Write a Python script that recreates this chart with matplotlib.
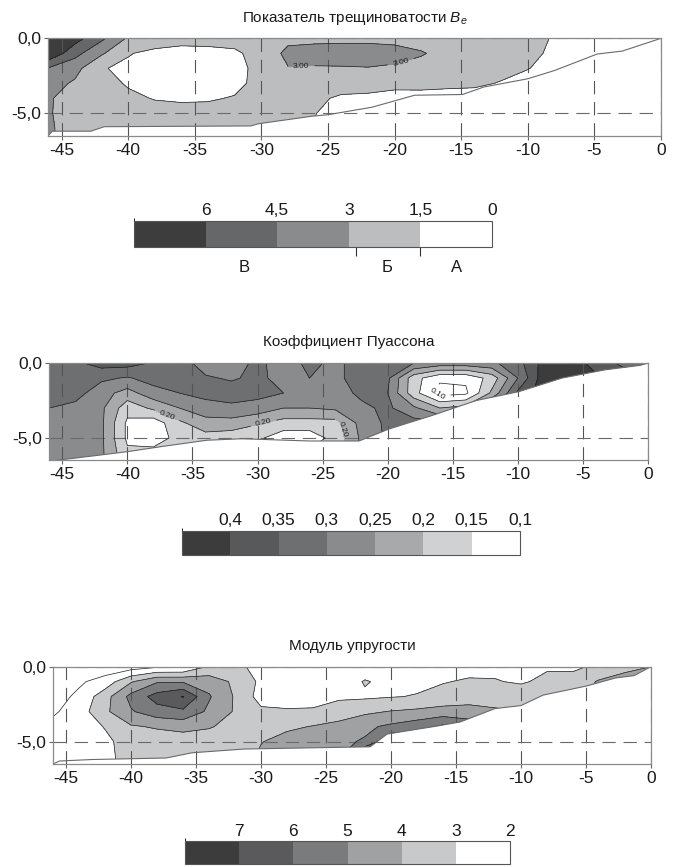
import numpy as np
import matplotlib
matplotlib.use('Agg')
import matplotlib.pyplot as plt
from matplotlib.colors import ListedColormap, BoundaryNorm
from matplotlib.cm import ScalarMappable
from matplotlib.patches import Polygon
from matplotlib.ticker import FuncFormatter

plt.rcParams['font.family'] = ['Liberation Sans', 'DejaVu Sans']
plt.rcParams['mathtext.fontset'] = 'custom'
plt.rcParams['mathtext.it'] = 'Liberation Sans:italic'
plt.rcParams['mathtext.rm'] = 'Liberation Sans'

# grid nodes: distance along profile (m) and depth (m)
x_nodes = [-46, -44, -42, -40, -38, -36, -34, -32, -30, -28, -26, -24,
           -22, -20, -18, -16, -14, -12, -10, -8, -6, -4, -2, 0]
depth_nodes = [0, -1, -2, -3, -4, -5, -6, -7]
x_ticks = [-45, -40, -35, -30, -25, -20, -15, -10, -5, 0]
y_ticks = [-5, 0]

# --- fracturing index Be ---
be_values = [
    [8.0, 6.6, 4.8, 2.8, 2.4, 2.0, 2.1, 2.2, 2.4, 2.7, 2.7, 2.7, 2.7, 2.6, 2.5, 2.4, 2.3, 2.1, 1.9, 1.4, 1.0, 0.8, 0.6, 0.5],
    [7.3, 5.0, 3.2, 1.6, 1.1, 1.0, 1.0, 1.2, 2.2, 3.3, 3.5, 3.6, 3.6, 3.5, 3.1, 2.6, 2.4, 2.2, 1.9, 1.2, 0.9, 0.7, 0.5, 0.4],
    [4.4, 3.5, 1.6, 1.2, 0.9, 0.8, 0.8, 1.0, 2.0, 2.95, 2.9, 2.9, 2.95, 2.8, 2.6, 2.4, 2.2, 2.0, 1.55, 1.0, 0.8, 0.6, 0.5, 0.4],
    [3.6, 2.8, 2.2, 1.3, 0.9, 0.8, 0.8, 1.1, 2.0, 2.5, 2.5, 2.4, 2.3, 1.9, 2.0, 1.9, 1.8, 1.4, 1.0, 0.8, 0.6, 0.5, 0.4, 0.3],
    [3.1, 2.6, 2.4, 1.9, 1.4, 1.3, 1.35, 1.6, 2.1, 2.3, 1.9, 1.2, 1.1, 1.0, 0.9, 0.8, 0.8, 0.7, 0.6, 0.5, 0.4, 0.3, 0.3, 0.2],
    [3.1, 2.5, 2.4, 2.3, 2.2, 2.0, 2.0, 2.1, 2.1, 2.0, 1.55, 0.9, 0.8, 0.7, 0.6, 0.5, 0.5, 0.4, 0.4, 0.3, 0.3, 0.2, 0.2, 0.2],
    [3.2, 2.4, 2.3, 2.2, 2.1, 2.0, 2.0, 2.0, 1.9, 1.8, 1.4, 0.8, 0.7, 0.6, 0.5, 0.5, 0.4, 0.4, 0.3, 0.3, 0.2, 0.2, 0.2, 0.2],
    [3.2, 2.4, 2.3, 2.2, 2.1, 2.0, 2.0, 2.0, 1.9, 1.8, 1.3, 0.8, 0.7, 0.6, 0.5, 0.5, 0.4, 0.4, 0.3, 0.3, 0.2, 0.2, 0.2, 0.2],
]
be_bottom_x = [0, -2.9, -4.8, -6.1, -8.0, -10.0, -10.6, -13.3, -14.9, -18.5, -19.7, -21.7,
               -25.0, -26.2, -28.2, -30.2, -30.8, -41.8, -42.8, -45.7, -46.0]
be_bottom_y = [0, -0.85, -1.05, -1.5, -2.15, -2.7, -2.8, -3.25, -3.75, -3.8, -4.1, -4.6,
               -5.1, -5.2, -5.45, -5.7, -5.85, -5.9, -6.2, -6.2, -6.5]
be_levels = [0, 1.5, 3, 4.5, 6, 8.5]
be_lines = [1.5, 4.5, 6]
be_colors = ['#ffffff', '#bcbdbf', '#8a8b8d', '#666769', '#3d3d3d']
be_scale = [0, 1.5, 3, 4.5, 6, 7.5]
be_scale_labels = ['0', '1,5', '3', '4,5', '6']
be_labelled = [(3.0, [(-27.0, -1.8), (-19.5, -1.7)])]
zone_names = ['В', 'Б', 'А']
zone_centers = [5.2, 2.2, 0.75]
zone_marks = [2.85, 1.5]

# --- Poisson ratio ---
nu_values = [
    [0.34, 0.34, 0.37, 0.37, 0.345, 0.32, 0.28, 0.28, 0.31, 0.28, 0.31, 0.29, 0.32, 0.32, 0.30, 0.28, 0.28, 0.29, 0.33, 0.42, 0.43, 0.38, 0.34, 0.33],
    [0.33, 0.33, 0.31, 0.295, 0.32, 0.32, 0.305, 0.295, 0.31, 0.285, 0.30, 0.29, 0.32, 0.31, 0.17, 0.11, 0.11, 0.17, 0.30, 0.43, 0.43, 0.41, 0.38, 0.36],
    [0.32, 0.32, 0.27, 0.23, 0.28, 0.30, 0.315, 0.32, 0.315, 0.30, 0.29, 0.28, 0.31, 0.30, 0.17, 0.08, 0.09, 0.21, 0.36, 0.43, 0.43, 0.42, 0.40, 0.38],
    [0.30, 0.285, 0.26, 0.17, 0.21, 0.25, 0.28, 0.29, 0.28, 0.25, 0.25, 0.26, 0.29, 0.31, 0.26, 0.20, 0.22, 0.33, 0.38, 0.42, 0.42, 0.42, 0.40, 0.38],
    [0.28, 0.28, 0.26, 0.14, 0.12, 0.19, 0.23, 0.23, 0.205, 0.18, 0.18, 0.18, 0.27, 0.31, 0.32, 0.31, 0.33, 0.38, 0.40, 0.42, 0.42, 0.42, 0.40, 0.38],
    [0.28, 0.28, 0.26, 0.14, 0.12, 0.17, 0.18, 0.17, 0.16, 0.12, 0.12, 0.17, 0.26, 0.31, 0.32, 0.32, 0.33, 0.38, 0.40, 0.42, 0.42, 0.42, 0.40, 0.38],
    [0.28, 0.28, 0.26, 0.16, 0.17, 0.17, 0.18, 0.18, 0.17, 0.16, 0.16, 0.17, 0.26, 0.31, 0.32, 0.32, 0.33, 0.38, 0.40, 0.42, 0.42, 0.42, 0.40, 0.38],
    [0.28, 0.28, 0.26, 0.16, 0.17, 0.17, 0.18, 0.18, 0.17, 0.16, 0.16, 0.17, 0.26, 0.31, 0.32, 0.32, 0.33, 0.38, 0.40, 0.42, 0.42, 0.42, 0.40, 0.38],
]
nu_bottom_x = [0, -0.6, -3.3, -6.6, -9.9, -13.2, -16.6, -19.9, -22.2, -26.0, -31.2, -33.9, -37.2, -39.9, -42.2, -46.0]
nu_bottom_y = [0, -0.15, -0.45, -1.0, -1.9, -2.5, -3.5, -4.4, -5.2, -5.2, -5.05, -5.15, -5.55, -5.9, -6.15, -6.55]
nu_levels = [0, 0.15, 0.2, 0.25, 0.3, 0.35, 0.4, 0.5]
nu_lines = [0.15, 0.25, 0.3, 0.35, 0.4]
nu_colors = ['#ffffff', '#d0d1d3', '#a8a9ab', '#8a8b8d', '#6e6f71', '#58595b', '#3c3c3c']
nu_scale = [0.1, 0.15, 0.2, 0.25, 0.3, 0.35, 0.4, 0.45]
nu_scale_labels = ['0,1', '0,15', '0,2', '0,25', '0,3', '0,35', '0,4']
nu_labelled = [(0.2, [(-37.0, -3.6), (-29.6, -3.7), (-23.4, -4.4)]),
               (0.1, [(-16.3, -2.4)])]

# --- elastic modulus ---
e_values = [
    [1.0, 1.2, 1.4, 1.5, 1.85, 1.9, 3.1, 3.3, 2.6, 2.4, 2.3, 2.3, 2.4, 2.5, 2.6, 2.7, 2.7, 2.8, 2.85, 2.9, 2.8, 3.2, 3.6, 4.0],
    [1.3, 1.85, 2.4, 3.9, 4.9, 4.9, 4.6, 3.8, 2.8, 2.5, 2.4, 2.4, 3.08, 2.7, 2.8, 2.95, 3.1, 3.05, 2.9, 3.2, 3.4, 4.1, 4.6, 4.6],
    [1.6, 2.2, 3.6, 5.3, 6.4, 7.05, 5.1, 3.9, 2.6, 2.6, 2.7, 2.9, 2.85, 2.95, 3.05, 3.3, 3.4, 3.4, 3.5, 3.6, 3.7, 4.2, 4.4, 4.5],
    [1.85, 2.5, 3.8, 4.9, 5.6, 5.8, 4.8, 3.9, 3.2, 3.1, 3.1, 3.3, 3.8, 4.05, 4.2, 4.4, 4.5, 4.2, 4.0, 3.9, 3.9, 4.2, 4.4, 4.5],
    [2.3, 2.5, 3.05, 3.9, 4.1, 4.3, 4.1, 3.6, 3.4, 3.8, 4.05, 4.4, 4.8, 5.2, 5.6, 6.2, 5.5, 4.5, 4.2, 4.0, 3.9, 4.2, 4.4, 4.5],
    [2.3, 2.5, 2.8, 3.4, 3.5, 3.5, 3.4, 3.3, 3.95, 4.4, 4.6, 4.8, 5.1, 7.0, 7.0, 6.5, 5.5, 4.5, 4.2, 4.0, 3.9, 4.2, 4.4, 4.5],
    [2.3, 2.5, 2.8, 3.3, 3.3, 3.3, 3.2, 3.2, 4.2, 4.5, 4.7, 4.8, 7.7, 7.5, 7.0, 6.5, 5.5, 4.5, 4.2, 4.0, 3.9, 4.2, 4.4, 4.5],
    [2.3, 2.5, 2.8, 3.3, 3.3, 3.3, 3.2, 3.2, 4.2, 4.5, 4.7, 4.8, 7.7, 7.5, 7.0, 6.5, 5.5, 4.5, 4.2, 4.0, 3.9, 4.2, 4.4, 4.5],
]
e_bottom_x = [0, -1.3, -2.7, -5.0, -8.3, -10.0, -12.0, -14.7, -16.7, -20.3, -21.6, -31.3, -35.3, -37.3, -43.0, -45.5, -46.0]
e_bottom_y = [0, -0.6, -0.75, -1.3, -1.9, -2.6, -2.8, -3.7, -4.0, -4.5, -5.35, -5.5, -5.75, -6.1, -6.2, -6.3, -6.5]
e_levels = [0, 3, 4, 5, 6, 7, 9]
e_lines = [2, 3, 4, 5, 6, 7]
e_colors = ['#ffffff', '#c8c9cb', '#a0a1a3', '#7a7b7d', '#5a5a5c', '#3c3c3c']
e_scale = [2, 3, 4, 5, 6, 7, 8]
e_scale_labels = ['2', '3', '4', '5', '6', '7']

DASH = (0, (12, 7))
LABEL_SIZE = 12.5


def comma(v, pos=None):
    return f'{v:.1f}'.replace('.', ',')


def draw_section(fig, rect, values, bx, by, levels, colors, lines, title, labelled=()):
    ax = fig.add_axes(rect)
    X, Y = np.meshgrid(x_nodes, depth_nodes)
    Z = np.array(values)

    domain = Polygon([(-46, 0), (0, 0)] + list(zip(bx, by)), closed=True,
                     transform=ax.transData, facecolor='none', edgecolor='none')
    ax.add_patch(domain)

    cf = ax.contourf(X, Y, Z, levels=levels, colors=colors)
    cf.set_clip_path(domain)
    cl = ax.contour(X, Y, Z, levels=lines, colors='#1e1e1e', linewidths=0.5)
    cl.set_clip_path(domain)
    for lev, spots in labelled:
        cs = ax.contour(X, Y, Z, levels=[lev], colors='#1e1e1e', linewidths=0.5)
        ax.clabel(cs, manual=spots, fmt='%.2f', fontsize=6, inline=True)
        cs.set_clip_path(domain)
    ax.plot(bx, by, color='#6a6a6a', lw=0.8)

    ax.set_xlim(-46, 0)
    ax.set_ylim(-6.5, 0)
    ax.set_xticks(x_ticks)
    ax.set_yticks(y_ticks)
    ax.xaxis.set_major_formatter(FuncFormatter(lambda v, p: f'{int(round(v))}'))
    ax.yaxis.set_major_formatter(FuncFormatter(comma))
    ax.tick_params(direction='out', length=3, width=0.8, color='#666666',
                   labelsize=LABEL_SIZE, pad=2, labelcolor='#1a1a1a')
    ax.grid(axis='x', color='#555555', lw=0.8, ls=DASH)
    ax.grid(axis='y', color='#6a6a6a', lw=0.8, ls=DASH)
    for s in ax.spines.values():
        s.set_color('#8a8a8a')
        s.set_linewidth(0.9)
    ax.set_title(title, fontsize=11, pad=12, color='#1a1a1a')
    return ax


def draw_scale(fig, rect, bounds, colors, labels):
    cax = fig.add_axes(rect)
    cmap = ListedColormap(colors)
    norm = BoundaryNorm(bounds, cmap.N)
    cb = fig.colorbar(ScalarMappable(norm=norm, cmap=cmap), cax=cax,
                      orientation='horizontal', ticks=bounds[:-1], drawedges=True)
    cax.xaxis.set_ticks_position('top')
    cax.invert_xaxis()
    cb.set_ticklabels(labels)
    cax.tick_params(length=0, labelsize=LABEL_SIZE, pad=2, labelcolor='#1a1a1a')
    cb.outline.set_edgecolor('#555555')
    cb.outline.set_linewidth(0.8)
    cb.dividers.set_color('#444444')
    cb.dividers.set_linewidth(0.8)
    return cax


fig = plt.figure(figsize=(6.78, 8.67), dpi=100)

# panel 1
draw_section(fig, [0.0712, 0.8435, 0.9037, 0.1123], be_values,
             be_bottom_x, be_bottom_y, be_levels, be_colors, be_lines,
             'Показатель трещиноватости $B_e$', be_labelled)

cax1 = draw_scale(fig, [0.1976, 0.7151, 0.528, 0.030], be_scale, be_colors, be_scale_labels)
tr = cax1.get_xaxis_transform()
cax1.vlines(zone_marks, -0.35, 0, transform=tr, colors='#333333', lw=0.8, clip_on=False)
for name, xc in zip(zone_names, zone_centers):
    cax1.text(xc, -0.8, name, transform=tr, ha='center', va='center',
              fontsize=12, color='#1a1a1a')

# panel 2
draw_section(fig, [0.0727, 0.4689, 0.8830, 0.1123], nu_values,
             nu_bottom_x, nu_bottom_y, nu_levels, nu_colors, nu_lines,
             'Коэффициент Пуассона', nu_labelled)

draw_scale(fig, [0.2684, 0.3599, 0.4985, 0.0277], nu_scale, nu_colors, nu_scale_labels)

# panel 3
draw_section(fig, [0.0782, 0.1188, 0.8820, 0.1123], e_values,
             e_bottom_x, e_bottom_y, e_levels, e_colors, e_lines,
             'Модуль упругости')

draw_scale(fig, [0.2729, 0.003, 0.4794, 0.0265], e_scale, e_colors, e_scale_labels)

fig.savefig('out.png', dpi=100, facecolor='white')
